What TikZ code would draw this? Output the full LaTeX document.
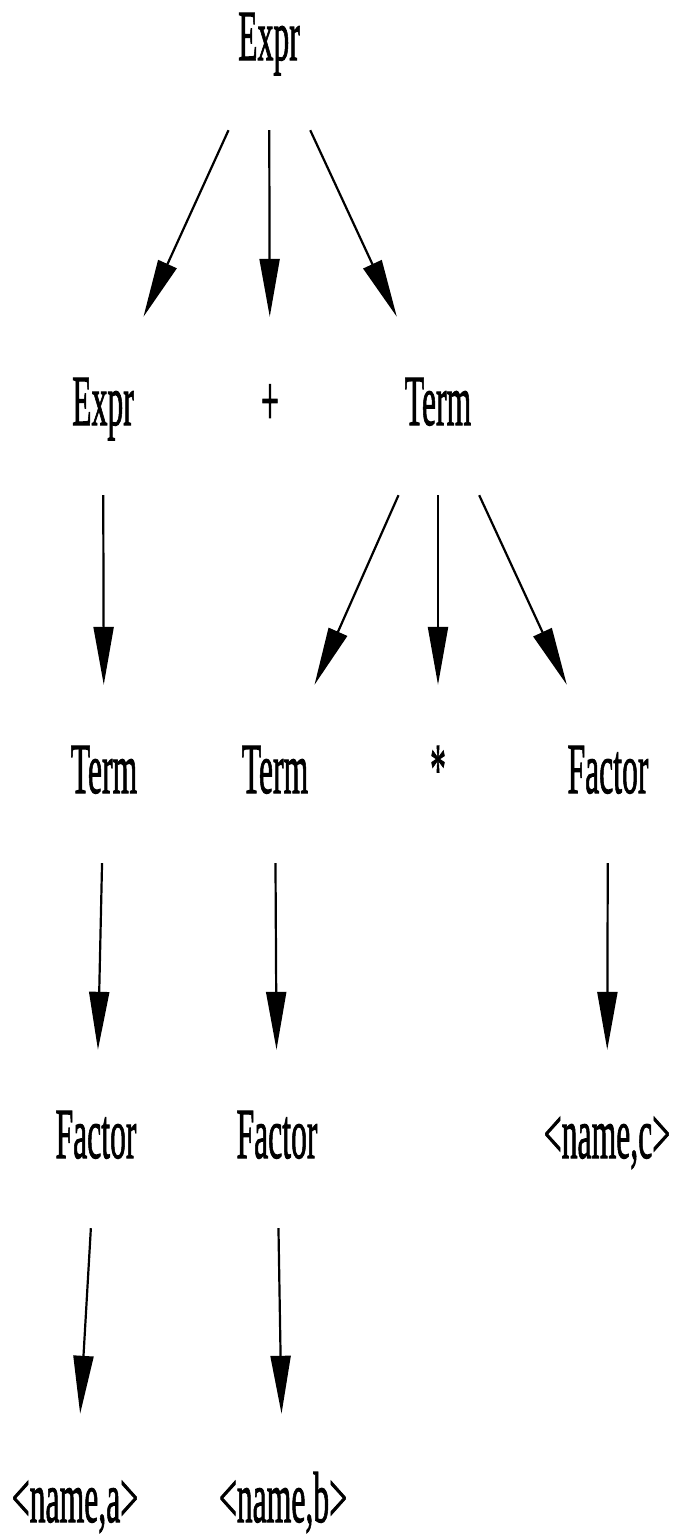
\documentclass[tikz,border=0pt]{standalone}
\usepackage{fontspec}
\usepackage{graphicx}
\setmainfont{Liberation Serif}
\newfontfamily\lblfont[FakeBold=1.6]{Liberation Serif}
\usetikzlibrary{arrows.meta}
\newcommand{\sq}[1]{\scalebox{0.44}[1]{#1}}
\tikzset{
  lbl/.style={inner sep=0pt, minimum height=178pt, minimum width=100pt,
    text height=50pt, text depth=12pt, align=center,
    font=\lblfont\fontsize{72}{86}\selectfont},
  edge/.style={line width=2.2pt, -{Triangle[length=58pt, width=20pt]}}
}
\begin{document}
\begin{tikzpicture}[x=1pt,y=-1pt]
\useasboundingbox (0,0) rectangle (676,1535);
% row 1
\node[lbl] (e1) at (269,41) {\sq{Expr}};
% row 2
\node[lbl] (e2) at (103,406) {\sq{Expr}};
\node[lbl] (p2) at (270,406) {\sq{+}};
\node[lbl] (t2) at (438,406) {\sq{Term}};
% row 3
\node[lbl] (t3a) at (104,774) {\sq{Term}};
\node[lbl] (t3b) at (275,774) {\sq{Term}};
\node[lbl] (s3) at (438,774) {\sq{*}};
\node[lbl] (f3) at (608,774) {\sq{Factor}};
% row 4
\node[lbl] (f4a) at (96,1139) {\sq{Factor}};
\node[lbl] (f4b) at (277,1139) {\sq{Factor}};
\node[lbl] (nc) at (607,1139) {\sq{<name,c>}};
% row 5
\node[lbl] (na) at (75,1503) {\sq{<name,a>}};
\node[lbl] (nb) at (283,1503) {\sq{<name,b>}};
% edges
\draw[edge] (e1) -- (e2);
\draw[edge] (e1) -- (p2);
\draw[edge] (e1) -- (t2);
\draw[edge] (e2) -- (t3a);
\draw[edge] (t2) -- (t3b);
\draw[edge] (t2) -- (s3);
\draw[edge] (t2) -- (f3);
\draw[edge] (t3a) -- (f4a);
\draw[edge] (t3b) -- (f4b);
\draw[edge] (f3) -- (nc);
\draw[edge] (f4a) -- (na);
\draw[edge] (f4b) -- (nb);
\end{tikzpicture}
\end{document}
